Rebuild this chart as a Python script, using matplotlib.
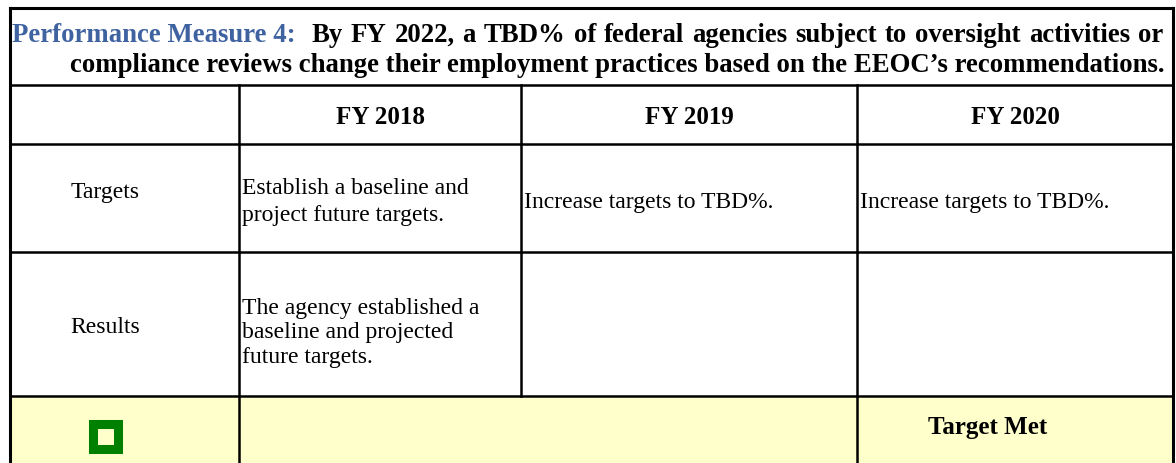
import matplotlib
matplotlib.use("Agg")
import matplotlib.pyplot as plt
from matplotlib.patches import Rectangle

# ---- data (text content) ----
title_lead = "Performance Measure 4:"
title_line1 = "By FY 2022, a TBD% of federal agencies subject to oversight activities or"
title_line2 = "compliance reviews change their employment practices based on the EEOC\u2019s recommendations."
years = ["FY 2018", "FY 2019", "FY 2020"]
row_labels = ["Targets", "Results"]
targets = ["Establish a baseline and\nproject future targets.",
           "Increase targets to TBD%.",
           "Increase targets to TBD%."]
results = ["The agency established a\nbaseline and projected\nfuture targets.", "", ""]
status_label = "Target Met"

# ---- layout (pixels) ----
W, H = 1176, 464
cols = [10, 239, 521, 857, 1173]
rows = [9, 86, 145, 253, 397, 470]
BLUE = "#3F62A0"
YELLOW = "#FFFFCC"
GREEN = "#008000"
FONT = "Liberation Serif"
FS = 17
FS_TITLE = 19.3
FS_HEAD = 18
TITLE_RIGHT = 1163

fig = plt.figure(figsize=(W / 100, H / 100), dpi=100)
ax = fig.add_axes([0, 0, 1, 1])
ax.set_xlim(0, W)
ax.set_ylim(H, 0)
ax.axis("off")

# yellow bottom row
ax.add_patch(Rectangle((cols[0], rows[4]), cols[-1] - cols[0], rows[5] - rows[4],
                       facecolor=YELLOW, edgecolor="none", zorder=0))

lw_in = 1.8
lw_out = 2.2
for y in rows[1:5]:
    ax.plot([cols[0], cols[-1]], [y, y], color="black", lw=lw_in, solid_capstyle="projecting")
ax.plot([cols[0], cols[-1]], [rows[0], rows[0]], color="black", lw=lw_out, solid_capstyle="projecting")
for x in (cols[0], cols[-1]):
    ax.plot([x, x], [rows[0], rows[5]], color="black", lw=lw_out, solid_capstyle="projecting")
ax.plot([cols[1], cols[1]], [rows[1], rows[5]], color="black", lw=lw_in)
ax.plot([cols[2], cols[2]], [rows[1], rows[4]], color="black", lw=lw_in)
ax.plot([cols[3], cols[3]], [rows[1], rows[5]], color="black", lw=lw_in)

fig.canvas.draw()
renderer = fig.canvas.get_renderer()
inv = ax.transData.inverted()


def width_px(t):
    bb = t.get_window_extent(renderer=renderer)
    return inv.transform((bb.x1, 0))[0] - inv.transform((bb.x0, 0))[0]


def put_lines(x, y0, text, step, **kw):
    for k, line in enumerate(text.split("\n")):
        ax.text(x, y0 + k * step, line, family=FONT, va="baseline", **kw)


# title (line 1 justified)
t1 = ax.text(12, 42, title_lead, color=BLUE, fontsize=FS_TITLE, fontweight="bold",
             family=FONT, ha="left", va="baseline")
x_start = 12 + width_px(t1) + 16
words = title_line1.split(" ")
word_texts = [ax.text(0, 42, w, color="black", fontsize=FS_TITLE, fontweight="bold",
                      family=FONT, ha="left", va="baseline") for w in words]
widths = [width_px(t) for t in word_texts]
gap = (TITLE_RIGHT - x_start - sum(widths)) / (len(words) - 1)
xx = x_start
for t, w in zip(word_texts, widths):
    t.set_x(xx)
    xx += w + gap
ax.text(70, 72, title_line2, color="black", fontsize=FS_TITLE, fontweight="bold",
        family=FONT, ha="left", va="baseline")

# header
for i, yr in enumerate(years):
    cx = (cols[i + 1] + cols[i + 2]) / 2
    ax.text(cx, 124, yr, fontsize=FS_HEAD, fontweight="bold", family=FONT,
            ha="center", va="baseline")

# row labels
ax.text(105, 198, row_labels[0], fontsize=FS, family=FONT, ha="center", va="baseline")
ax.text(105, 333, row_labels[1], fontsize=FS, family=FONT, ha="center", va="baseline")

# cells
for i, s in enumerate(targets):
    n = s.count("\n") + 1
    y0 = 194 if n == 2 else 208
    put_lines(cols[i + 1] + 3, y0, s, 27, fontsize=FS, ha="left")
for i, s in enumerate(results):
    if s:
        put_lines(cols[i + 1] + 3, 314, s, 24.5, fontsize=FS, ha="left")

# status row
ax.add_patch(Rectangle((105.5 - 12.5, 437 - 12.5), 25, 25, facecolor=YELLOW,
                       edgecolor=GREEN, lw=6.5, zorder=3))
ax.text(988, 434, status_label, fontsize=FS_HEAD, fontweight="bold", family=FONT,
        ha="center", va="baseline")

fig.savefig("out.png", dpi=100)
